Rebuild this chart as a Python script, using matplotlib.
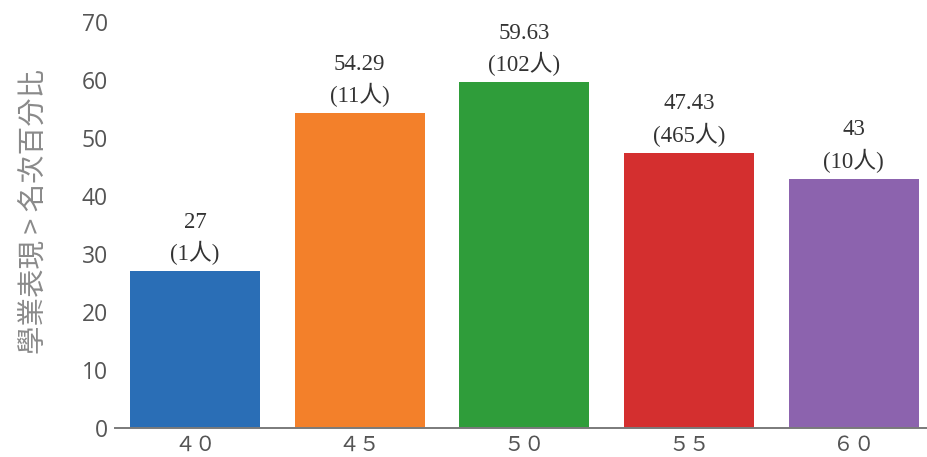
import matplotlib
matplotlib.use("Agg")
import matplotlib.pyplot as plt

categories = ["４０", "４５", "５０", "５５", "６０"]
values = [27, 54.29, 59.63, 47.43, 43]
value_labels = ["27", "54.29", "59.63", "47.43", "43"]
counts = ["(1人)", "(11人)", "(102人)", "(465人)", "(10人)"]
colors = ["#2a6eb6", "#f3802a", "#2f9d3a", "#d42f2f", "#8c63ae"]
yticks = [0, 10, 20, 30, 40, 50, 60, 70]

W, H = 928, 457
fig = plt.figure(figsize=(W / 100, H / 100), dpi=100)
ax = fig.add_axes([115 / W, 1 - 428 / H, 1 - 115 / W, (428 - 22) / H])

x = list(range(len(categories)))
bars = ax.bar(x, values, width=0.79, color=colors)
ax.set_xlim(-0.485, 4.45)
ax.set_ylim(0, 70)

for spine in ["top", "right", "left"]:
    ax.spines[spine].set_visible(False)
ax.spines["bottom"].set_color("#7a7a7a")
ax.spines["bottom"].set_linewidth(1.4)

ax.set_yticks(yticks)
ax.set_yticklabels([str(t) for t in yticks], fontsize=16.5, color="#555555",
                   family=["Open Sans", "DejaVu Sans"])
ax.tick_params(axis="y", length=0, pad=5)
ax.set_xticks(x)
ax.set_xticklabels(categories, fontsize=15, color="#555555",
                   family=["Noto Sans CJK TC", "DejaVu Sans"])
ax.tick_params(axis="x", length=0, pad=4)

ax.set_ylabel("學業表現 > 名次百分比", fontsize=20.5, color="#8a8a8a",
              family=["Noto Sans CJK TC", "DejaVu Sans"], va="center")
ax.yaxis.set_label_coords((35 - 115) / (W - 115), (428 - 211) / (428 - 22))

for xi, v, vl, c in zip(x, values, value_labels, counts):
    ax.annotate(vl, (xi, v), xytext=(0, 49), textcoords="offset pixels",
                ha="center", va="center", fontsize=16.5, color="#333333",
                family=["Liberation Serif", "Noto Sans CJK TC"])
    ax.annotate(c, (xi, v), xytext=(0, 18), textcoords="offset pixels",
                ha="center", va="center", fontsize=16.5, color="#333333",
                family=["Liberation Serif", "Noto Sans CJK TC"])

fig.savefig("out.png", dpi=100)
